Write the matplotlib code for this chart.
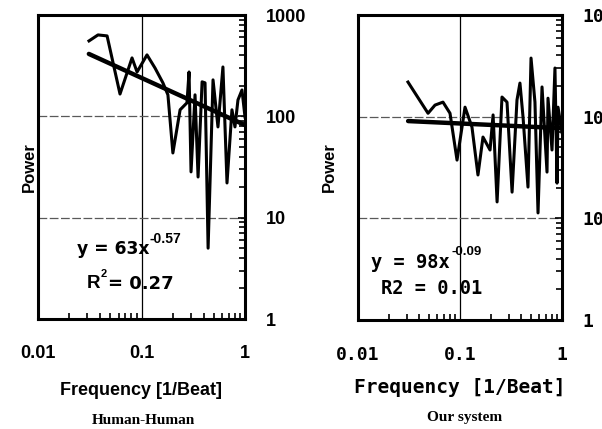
import matplotlib
matplotlib.use("Agg")
import matplotlib.pyplot as plt

# ---- data ----
left_freq = [0.0311, 0.038, 0.0465, 0.062, 0.081, 0.0906, 0.113, 0.135, 0.161, 0.180,
             0.201, 0.236, 0.275, 0.288, 0.301, 0.329, 0.352, 0.385, 0.411, 0.440,
             0.491, 0.548, 0.612, 0.670, 0.748, 0.80, 0.855, 0.935, 1.0]
left_power = [555, 636, 622, 166, 377, 274, 404, 300, 214, 163,
              43.5, 116, 136, 274, 28.3, 163, 25.2, 219, 214, 5.0,
              229, 78.6, 307, 22.0, 116, 78.6, 145, 182, 98.6]
left_trend_x = [0.031, 1.0]
left_trend_y = [413, 82]

right_freq = [0.0309, 0.0486, 0.0569, 0.0681, 0.0798, 0.0935, 0.112, 0.131, 0.150, 0.168,
              0.197, 0.211, 0.231, 0.258, 0.289, 0.324, 0.362, 0.387, 0.415, 0.464,
              0.497, 0.543, 0.582, 0.637, 0.713, 0.729, 0.798, 0.853, 0.894, 0.914, 1.0]
right_power = [219, 108, 130, 139, 108, 37.4, 124, 79, 26.7, 63,
               47, 104, 14.5, 156, 139, 18.1, 146, 214, 99, 20.3,
               377, 139, 11.3, 196, 28.5, 152, 47, 301, 22.2, 124, 70]
right_trend_x = [0.031, 1.0]
right_trend_y = [90.5, 77]

xticks = [0.01, 0.1, 1]
xtick_labels = ["0.01", "0.1", "1"]
yticks = [1, 10, 100, 1000]
ytick_labels = ["1", "10", "100", "1000"]

W, H = 602, 429
fig = plt.figure(figsize=(W / 100, H / 100), dpi=100)


def fx(px):
    return px / W


def fy(py):
    return 1 - py / H


def make_panel(rect, freq, power, tx, ty, font, fsize, xlfsize, xlpad, ylpad):
    ax = fig.add_axes(rect)
    ax.set_xscale("log")
    ax.set_yscale("log")
    ax.set_xlim(0.01, 1)
    ax.set_ylim(1, 1000)
    ax.axvline(0.1, color="black", lw=0.9, zorder=1)
    ax.axhline(100, color="0.35", lw=0.9, ls=(0, (7, 2)), zorder=1)
    ax.axhline(10, color="0.35", lw=0.9, ls=(0, (7, 2)), zorder=1)
    ax.plot(freq, power, color="black", lw=2.2, zorder=3, solid_joinstyle="round")
    ax.plot(tx, ty, color="black", lw=3.2, zorder=4, solid_capstyle="round")
    for s in ax.spines.values():
        s.set_linewidth(2.2)
    ax.yaxis.tick_right()
    ax.yaxis.set_label_position("left")
    ax.set_yticks(yticks)
    ax.set_yticklabels(ytick_labels, fontfamily=font, fontweight="bold", fontsize=fsize, ha="left")
    ax.set_xticks(xticks)
    ax.set_xticklabels(xtick_labels, fontfamily=font, fontweight="bold", fontsize=fsize)
    ax.tick_params(axis="y", which="major", direction="in", length=5, width=1.2, pad=15,
                   right=True, left=False)
    ax.tick_params(axis="y", which="minor", direction="in", length=4, width=1.2,
                   right=True, left=False)
    ax.tick_params(axis="x", which="major", direction="in", length=0, pad=19)
    ax.tick_params(axis="x", which="minor", direction="in", length=4, width=1.2,
                   bottom=True, top=False, labelbottom=False)
    ax.set_xlabel("Frequency [1/Beat]", fontfamily=font, fontweight="bold", fontsize=xlfsize,
                  labelpad=xlpad)
    ax.set_ylabel("Power", fontfamily="Liberation Sans", fontweight="bold", fontsize=12, labelpad=ylpad)
    return ax


axL = make_panel([fx(38), fy(319), fx(245) - fx(38), fy(15) - fy(319)],
                 left_freq, left_power, left_trend_x, left_trend_y,
                 "Liberation Sans", 13, 13, 14, 1)
axR = make_panel([fx(358), fy(320), fx(562) - fx(358), fy(15) - fy(320)],
                 right_freq, right_power, right_trend_x, right_trend_y,
                 "DejaVu Sans Mono", 13, 14, 10, 15)

# annotations
bold = dict(fontweight="bold", color="black")
fig.text(fx(77), fy(249), "y = 63x", fontfamily="DejaVu Sans", fontsize=12.3, va="center", **bold)
fig.text(fx(150), fy(239), "-0.57", fontfamily="Liberation Sans", fontsize=10, va="center", **bold)
fig.text(fx(87), fy(284), "R", fontfamily="Liberation Sans", fontsize=13.5, va="center", **bold)
fig.text(fx(100.5), fy(274), "2", fontfamily="Liberation Sans", fontsize=8, va="center", **bold)
fig.text(fx(108), fy(284), "= 0.27", fontfamily="DejaVu Sans", fontsize=13, va="center", **bold)

fig.text(fx(371), fy(262), "y = 98x", fontfamily="DejaVu Sans Mono", fontsize=13.5, va="center", **bold)
fig.text(fx(451), fy(252), "-0.09", fontfamily="Liberation Sans", fontsize=9.5, va="center", **bold)
fig.text(fx(381), fy(288), "R2 = 0.01", fontfamily="DejaVu Sans Mono", fontsize=13.5, va="center", **bold)

fig.text(fx(143), fy(420), "Human-Human", fontfamily="Liberation Serif", fontsize=11,
         ha="center", va="center", **bold)
fig.text(fx(465), fy(417), "Our system", fontfamily="Liberation Serif", fontsize=11,
         ha="center", va="center", **bold)

fig.savefig("out.png", dpi=100)
